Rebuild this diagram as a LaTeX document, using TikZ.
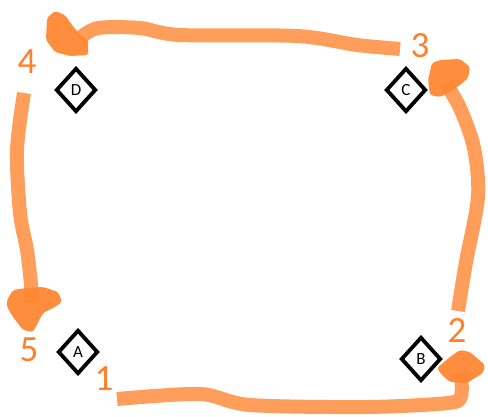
\documentclass[tikz,border=0pt]{standalone}
\usepackage{fontspec}
\setmainfont{Carlito}
\usetikzlibrary{shapes.geometric}
\definecolor{strokeor}{RGB}{255,158,90}
\definecolor{blobor}{RGB}{255,135,52}
\definecolor{labelor}{RGB}{255,128,40}
\tikzset{
  corner/.style={draw=black, line width=3.8pt, shape=diamond, minimum width=40pt, minimum height=44pt, inner sep=0pt, fill=white, font=\fontsize{17}{17}\selectfont, text=black},
  numlabel/.style={text=labelor, font=\fontsize{37}{37}\selectfont, inner sep=0pt},
  hand/.style={draw=strokeor, line width=14pt, line cap=butt, line join=round},
  blob/.style={fill=blobor, rounded corners=2pt, opacity=0.95}
}
\begin{document}
\begin{tikzpicture}[x=1pt,y=-1pt]
\useasboundingbox (0,0) rectangle (488,417);
% corner markers
\node[corner] (A) at (78,352) {A};
\node[corner] (B) at (421,359) {B};
\node[corner] (C) at (406,90) {C};
\node[corner] (D) at (76,90) {D};
% labels
\node[numlabel] (n1) at (104,379) {1};
\node[numlabel] (n2) at (457,330) {2};
\node[numlabel] (n3) at (420,46) {3};
\node[numlabel] (n4) at (27,62) {4};
\node[numlabel] (n5) at (29,350) {5};
% stroke waypoints
\coordinate (s1) at (117,399);
\coordinate (a1) at (200,394);
\coordinate (a2) at (250,405);
\coordinate (a3) at (367,407);
\coordinate (a4) at (448,403);
\coordinate (a5) at (461,396);
\coordinate (e1) at (461,372);
\coordinate (s2) at (458,311);
\coordinate (b1) at (466,262);
\coordinate (b2) at (478,197);
\coordinate (b3) at (474,148);
\coordinate (b4) at (460,108);
\coordinate (e2) at (446,84);
\coordinate (s3) at (400,49);
\coordinate (c1) at (357,45);
\coordinate (c2) at (297,36);
\coordinate (c3) at (180,35);
\coordinate (c4) at (140,28);
\coordinate (c5) at (98,28);
\coordinate (e3) at (80,38);
\coordinate (s4) at (24,93);
\coordinate (d1) at (17,150);
\coordinate (d2) at (20,213);
\coordinate (d3) at (27,250);
\coordinate (d4) at (31,285);
\coordinate (e4) at (31,302);
% strokes
\draw[hand] plot[smooth, tension=0.5] coordinates {(s1) (a1) (a2) (a3) (a4) (a5) (e1)};
\draw[hand] plot[smooth, tension=0.5] coordinates {(s2) (b1) (b2) (b3) (b4) (e2)};
\draw[hand] plot[smooth, tension=0.5] coordinates {(s3) (c1) (c2) (c3) (c4) (c5) (e3)};
\draw[hand] plot[smooth, tension=0.5] coordinates {(s4) (d1) (d2) (d3) (d4) (e4)};
% arrow blobs
\fill[blob] (47,18) -- (55,11) -- (65,15) -- (72,25) -- (80,35) -- (88,40) -- (88,55) -- (70,56) -- (55,52) -- (46,40) -- cycle;
\fill[blob] (432,63) -- (440,60) -- (460,59) -- (470,67) -- (468,78) -- (460,85) -- (450,92) -- (440,97) -- (430,95) -- (428,80) -- cycle;
\fill[blob] (7,300) -- (13,290) -- (27,288) -- (43,287) -- (58,292) -- (62,302) -- (55,307) -- (43,313) -- (33,332) -- (23,330) -- (13,317) -- (7,307) -- cycle;
\fill[blob] (437,368) -- (450,357) -- (460,350) -- (470,352) -- (485,365) -- (483,373) -- (475,378) -- (467,383) -- (450,382) -- (442,375) -- cycle;
\end{tikzpicture}
\end{document}
